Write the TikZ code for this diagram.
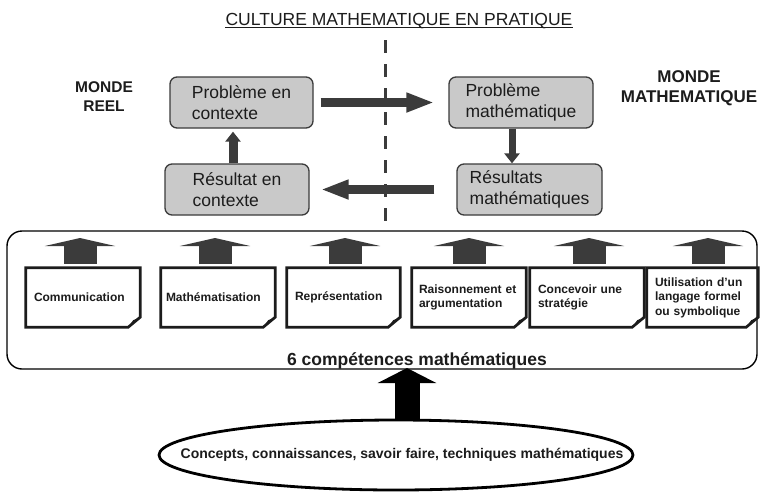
\documentclass[tikz,border=0pt]{standalone}
\usepackage{fontspec}
\setmainfont{Liberation Sans}
\usetikzlibrary{arrows.meta,shapes.geometric}
\definecolor{boxfill}{HTML}{C9C9C9}
\definecolor{darkgray}{HTML}{3B3B3B}
\definecolor{ink}{HTML}{1C1C1C}
\begin{document}
\begin{tikzpicture}[x=1pt,y=-1pt,
  every node/.style={text=ink},
  greybox/.style={draw=darkgray, line width=1.3pt, fill=boxfill, rounded corners=7pt,
    minimum height=51pt, align=left, inner sep=0pt,
    font=\fontsize{17.5pt}{21.5pt}\selectfont},
  paper/.style={inner xsep=8pt, inner ysep=0pt, minimum height=59pt, align=left,
    font=\bfseries\fontsize{12pt}{14.5pt}\selectfont},
  paperline/.style={draw=ink, line width=2.7pt, line join=miter},
  flowarrow/.style={draw=darkgray, line width=9pt, -{Triangle[length=28pt,width=18pt]}},
  smallarrow/.style={draw=darkgray, line width=#1, -{Triangle[length=10pt,width=15pt]}},
  skillarrow/.style={draw=darkgray, line width=33pt, -{Triangle[length=8pt,width=70pt]}},
  bigarrow/.style={draw=black, line width=25pt, -{Triangle[length=15pt,width=58pt]}},
  divider/.style={draw=darkgray, line width=3pt, dash pattern=on 13pt off 11pt},
]
\useasboundingbox (0,0) rectangle (760,491);
\fill[white] (0,0) rectangle (760,491);

% title
\node[inner sep=0pt, anchor=base, font=\fontsize{17.5pt}{20pt}\selectfont] (title) at (399,25)
  {CULTURE MATHEMATIQUE EN PRATIQUE};
\draw[ink, line width=0.9pt] ([yshift=-2.5pt]title.base west) -- ([yshift=-2.5pt]title.base east);

% the two worlds
\node[align=center, font=\bfseries\fontsize{15.5pt}{19pt}\selectfont] (reel) at (104,97)
  {MONDE\\REEL};
\node[align=center, font=\bfseries\fontsize{17pt}{20pt}\selectfont] (mathw) at (689,88)
  {MONDE\\MATHEMATIQUE};

% dividing line between the real world and the mathematical world
\coordinate (dtop) at (385,40);
\coordinate (dbot) at (385,230);
\draw[divider] (dtop) -- (dbot);

% modelling cycle
\node[greybox, minimum width=143pt] (pc) at (241.5,102.5) {Problème en\\contexte};
\node[greybox, minimum width=144pt] (pm) at (521,102.5) {Problème\\mathématique};
\node[greybox, minimum width=144pt] (rc) at (237,189.5) {Résultat en\\contexte};
\node[greybox, minimum width=145pt] (rm) at (529.5,189.5) {Résultats\\mathématiques};

\draw[flowarrow, shorten <=7pt, shorten >=14pt] (pc.east) -- (pm.west);
\draw[flowarrow, shorten <=22pt, shorten >=11pt] (rm.west) -- (rc.east);
\draw[smallarrow=7pt] ([xshift=-9pt]pm.south) -- ([xshift=-9pt]pm.south |- rm.north);
\draw[smallarrow=9pt, shorten >=3pt] ([xshift=-4pt]rc.north) -- ([xshift=-4pt]rc.north |- pc.south);

% frame holding the six competencies
\node[draw=black, line width=1.4pt, rounded corners=15pt, minimum width=750pt,
  minimum height=138pt, inner sep=0pt] (frame) at (382,300) {};
\node[anchor=base, inner sep=0pt, font=\bfseries\fontsize{17.5pt}{20pt}\selectfont] (six) at (417,365)
  {6 compétences mathématiques};

% competency cards
\node[paper, text width=98pt] (p1) at (83,297.5) {Communication};
\node[paper, inner xsep=5pt, text width=104pt] (p2) at (218,297.5) {Mathématisation};
\node[paper, text width=97pt] (p3) at (343.5,297.5) {Représentation};
\node[paper, text width=100pt, inner xsep=7pt] (p4) at (469,297.5) {Raisonnement et\\argumentation};
\node[paper, text width=98pt] (p5) at (587,297.5) {Concevoir une\\stratégie};
\node[paper, text width=95pt] (p6) at (702.5,297.5) {Utilisation d’un\\langage formel\\ou symbolique};

% card outlines with a folded lower right corner
\foreach \n in {p1,p2,p3,p4,p5,p6} {
  \draw[paperline] (\n.north west) -- (\n.north east) -- ([yshift=10pt]\n.south east)
    -- ([xshift=-12pt]\n.south east) -- (\n.south west) -- cycle;
  \fill[ink] ([yshift=10pt]\n.south east) -- ([xshift=-12pt]\n.south east)
    -- ([xshift=-7pt,yshift=7pt]\n.south east) -- cycle;
}

% arrows leaving each card
\coordinate (a1) at (80,238);
\coordinate (a2) at (215,238);
\coordinate (a3) at (345,238);
\coordinate (a4) at (469,238);
\coordinate (a5) at (589,238);
\coordinate (a6) at (708,238);
\foreach \i in {1,...,6} {
  \draw[skillarrow] ([yshift=4pt]p\i.north -| a\i) -- (a\i);
}

% base knowledge
\node[draw=black, line width=2.8pt, ellipse, minimum width=474pt, minimum height=70pt,
  inner sep=0pt, font=\bfseries\fontsize{14pt}{16pt}\selectfont] (base) at (396,455)
  {\makebox[0pt]{\hspace*{12pt}Concepts, connaissances, savoir faire, techniques mathématiques}};
\coordinate (btip) at (407,368);
\draw[bigarrow] (base.north -| btip) -- (btip);
\end{tikzpicture}
\end{document}
